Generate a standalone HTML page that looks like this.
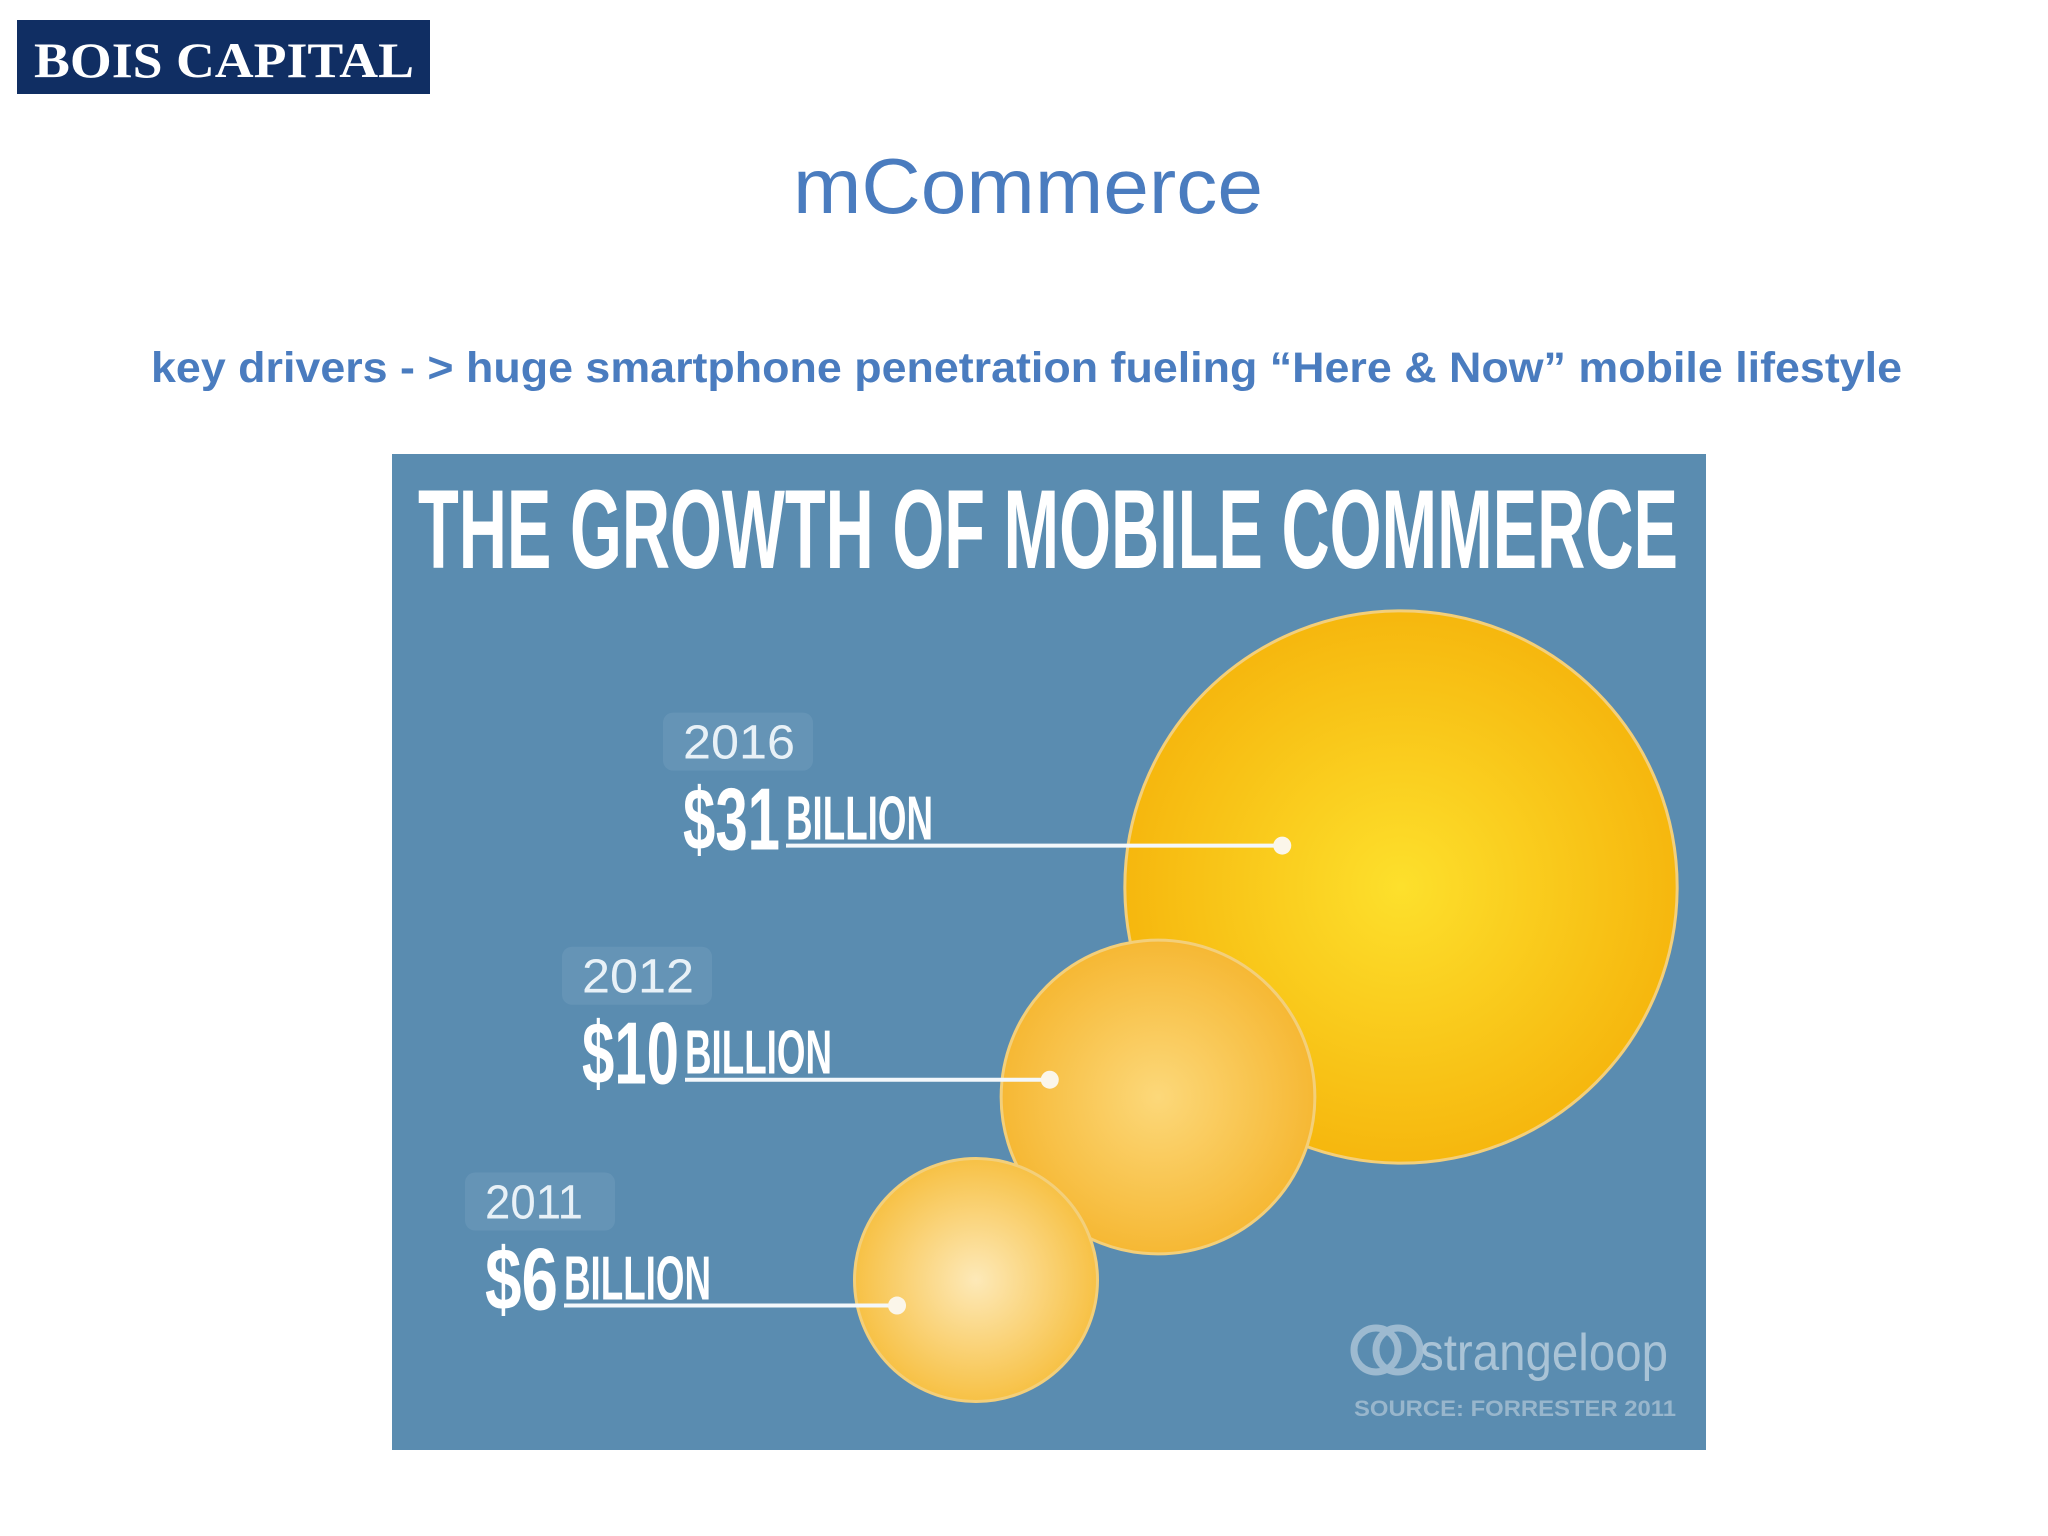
<!DOCTYPE html>
<html><head><meta charset="utf-8"><style>
html,body{margin:0;padding:0;background:#fff;}
svg{display:block;}
</style></head><body>
<svg id="chart" width="2048" height="1536" viewBox="0 0 2048 1536" xmlns="http://www.w3.org/2000/svg">
<defs>
<radialGradient id="g0" cx="50%" cy="50%" r="50%"><stop offset="0" stop-color="#fde9b8"/><stop offset="1" stop-color="#f7c145"/></radialGradient>
<radialGradient id="g1" cx="50%" cy="50%" r="50%"><stop offset="0" stop-color="#fcd87a"/><stop offset="1" stop-color="#f6b834"/></radialGradient>
<radialGradient id="g2" cx="50%" cy="50%" r="50%"><stop offset="0" stop-color="#fde02c"/><stop offset="1" stop-color="#f6b70e"/></radialGradient>
</defs>
<rect x="0" y="0" width="2048" height="1536" fill="#ffffff"/>
<g>
<rect x="17" y="20" width="413" height="74" fill="#102e63"/>
<text x="34" y="77" font-family="Liberation Serif, serif" font-weight="bold" font-size="50" fill="#ffffff" textLength="380" lengthAdjust="spacingAndGlyphs">BOIS CAPITAL</text>
</g>
<text x="1028" y="213" text-anchor="middle" font-family="Liberation Sans, sans-serif" font-size="78" fill="#4a7cbf" textLength="470" lengthAdjust="spacingAndGlyphs">mCommerce</text>
<text x="151" y="382" font-family="Liberation Sans, sans-serif" font-weight="bold" font-size="43" fill="#4a7cbf" textLength="1751" lengthAdjust="spacingAndGlyphs">key drivers - &gt; huge smartphone penetration fueling “Here &amp; Now” mobile lifestyle</text>
<rect x="392" y="454" width="1314" height="996" fill="#5a8cb0"/>
<text x="418" y="568" font-family="Liberation Sans Narrow, Liberation Sans, sans-serif" font-weight="bold" font-size="112" fill="#ffffff" textLength="1260" lengthAdjust="spacingAndGlyphs">THE GROWTH OF MOBILE COMMERCE</text>
<g id="bubbles"></g>
<g fill="none" stroke="#a9c3d6" stroke-width="7" opacity="0.85">
<circle cx="1376" cy="1350" r="22"/><circle cx="1398" cy="1350" r="22"/>
</g>
<text x="1420" y="1370" font-family="Liberation Sans, sans-serif" font-size="52" fill="#a9c3d6" textLength="248" lengthAdjust="spacingAndGlyphs">strangeloop</text>
<text x="1354" y="1416" font-family="Liberation Sans, sans-serif" font-weight="bold" font-size="22" fill="#98b6cc" textLength="322" lengthAdjust="spacingAndGlyphs">SOURCE: FORRESTER 2011</text>
</svg>
<script>
const years = ["2011", "2012", "2016"];
const values = [6, 10, 31];
const amountLabels = ["$6", "$10", "$31"];

const NS = "http://www.w3.org/2000/svg";
const g = document.getElementById("bubbles");
const k = 49.6;
function rScale(v){ return k*Math.sqrt(v); }
// layout (centers / label anchors), not data
const centers = [[976,1280],[1158,1097],[1401,887]];
const labelX = [485,582,683];
const dotFrac = [[0.65,-0.21],[0.69,0.11],[0.43,0.15]];
const order = [2,1,0];
order.forEach(i=>{
  const r = rScale(values[i]);
  const c = document.createElementNS(NS,"circle");
  
  
  c.setAttribute("cx", centers[i][0]); c.setAttribute("cy", centers[i][1]);
  c.setAttribute("r", r); c.setAttribute("fill", "url(#g"+i+")");
  c.setAttribute("stroke", "#f3cf7a"); c.setAttribute("stroke-width", "3");
  g.appendChild(c);
});
years.forEach((y,i)=>{
  const r = rScale(values[i]);
  const dx = centers[i][0] - dotFrac[i][0]*r;
  const dy = centers[i][1] - dotFrac[i][1]*r;
  const lx = labelX[i];
  const amtW = amountLabels[i].length===2 ? 73 : 97;
  const lineStart = lx + amtW + 6;
  const box = document.createElementNS(NS,"rect");
  
  
  box.setAttribute("x", lx-20); box.setAttribute("y", dy-133);
  box.setAttribute("width", 150); box.setAttribute("height", 58); box.setAttribute("rx", 10);
  box.setAttribute("fill", "#6c9aba"); box.setAttribute("opacity", "0.6");
  g.appendChild(box);
  const yt = document.createElementNS(NS,"text");
  
  
  yt.setAttribute("x", lx); yt.setAttribute("y", dy-87);
  yt.setAttribute("font-family", "Liberation Sans, sans-serif"); yt.setAttribute("font-size", "48");
  yt.setAttribute("fill", "#e8f1f7"); yt.setAttribute("textLength", y==="2011"?"98":"112");
  yt.setAttribute("lengthAdjust", "spacingAndGlyphs");
  yt.textContent = y; g.appendChild(yt);
  const at = document.createElementNS(NS,"text");
  
  
  at.setAttribute("x", lx); at.setAttribute("y", dy+4);
  at.setAttribute("font-family", "Liberation Sans Narrow, Liberation Sans, sans-serif"); at.setAttribute("font-weight", "bold");
  at.setAttribute("font-size", "88"); at.setAttribute("fill", "#ffffff");
  at.setAttribute("textLength", amtW); at.setAttribute("lengthAdjust", "spacingAndGlyphs");
  at.textContent = amountLabels[i]; g.appendChild(at);
  const bt = document.createElementNS(NS,"text");
  
  
  bt.setAttribute("x", lineStart); bt.setAttribute("y", dy-6);
  bt.setAttribute("font-family", "Liberation Sans Narrow, Liberation Sans, sans-serif"); bt.setAttribute("font-weight", "bold");
  bt.setAttribute("font-size", "62"); bt.setAttribute("fill", "#ffffff");
  bt.setAttribute("textLength", "147"); bt.setAttribute("lengthAdjust", "spacingAndGlyphs");
  bt.textContent = "BILLION"; g.appendChild(bt);
  const ln = document.createElementNS(NS,"line");
  
  
  ln.setAttribute("x1", lineStart); ln.setAttribute("x2", dx);
  ln.setAttribute("y1", dy); ln.setAttribute("y2", dy);
  ln.setAttribute("stroke", "#f4f8fb"); ln.setAttribute("stroke-width", "4");
  g.appendChild(ln);
  const dot = document.createElementNS(NS,"circle");
  
  
  dot.setAttribute("cx", dx); dot.setAttribute("cy", dy); dot.setAttribute("r", 9);
  dot.setAttribute("fill", "#fbf6ea");
  g.appendChild(dot);
});
</script>
</body></html>
